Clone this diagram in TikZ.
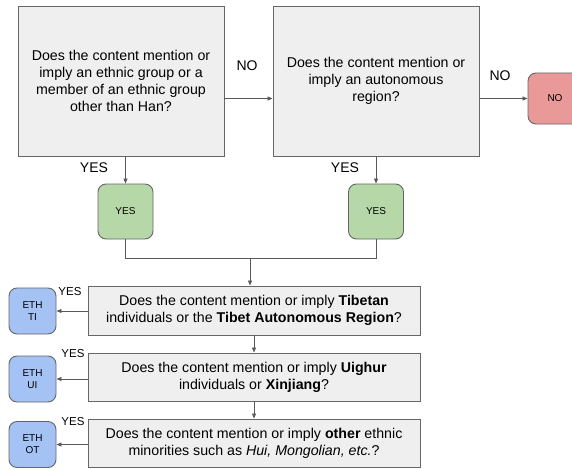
\documentclass[tikz,border=0pt]{standalone}
\usepackage{fontspec}
\setmainfont{Liberation Sans}
\usetikzlibrary{arrows.meta}
\definecolor{qfill}{HTML}{EFEFEF}
\definecolor{edge}{HTML}{666666}
\definecolor{line}{HTML}{595959}
\definecolor{yesfill}{HTML}{B6D7A8}
\definecolor{nofill}{HTML}{EA9999}
\definecolor{ethfill}{HTML}{A4C2F4}
\tikzset{
  question/.style={draw=edge, fill=qfill, line width=0.9pt, inner sep=0pt, align=center,
    font=\fontsize{14.2}{17.2}\selectfont},
  outcome/.style={draw=edge, line width=0.9pt, rounded corners=8pt, inner sep=0pt,
    align=center, font=\fontsize{10}{12}\selectfont},
  flow/.style={draw=line, line width=0.8pt, -{Triangle[length=5pt,width=4pt]}},
  link/.style={draw=line, line width=0.8pt},
  biglabel/.style={font=\fontsize{14}{17}\selectfont, inner sep=0pt},
  smalllabel/.style={font=\fontsize{11.5}{13}\selectfont, inner sep=0pt},
}
\begin{document}
\begin{tikzpicture}[x=1pt, y=-1pt]
\useasboundingbox (0,0) rectangle (572,468);
\clip (0,0) rectangle (572,468);
\fill[white] (0,0) rectangle (572,468);

% top row of questions
\node[question, minimum width=206pt, minimum height=150pt] (q1) at (121,81)
  {Does the content mention or\\ imply an ethnic group or a\\ member of an ethnic group\\ other than Han?};
\node[question, minimum width=206pt, minimum height=150pt] (q2) at (376,81)
  {Does the content mention or\\ imply an autonomous\\ region?};
\node[outcome, fill=nofill, minimum width=54pt, minimum height=51pt] (no) at (555,98.5) {NO};

% outcomes of the top row
\node[outcome, fill=yesfill, minimum width=55pt, minimum height=55pt] (y1) at (125.5,211.5) {YES};
\node[outcome, fill=yesfill, minimum width=55pt, minimum height=55pt] (y2) at (376,211.5) {YES};

% follow-up questions
\node[question, minimum width=332pt, minimum height=49pt] (tib) at (254,310.5)
  {Does the content mention or imply \textbf{Tibetan}\\ individuals or the \textbf{Tibet Autonomous Region}?};
\node[question, minimum width=332pt, minimum height=48pt] (uig) at (254,377)
  {Does the content mention or imply \textbf{Uighur}\\ individuals or \textbf{Xinjiang}?};
\node[question, minimum width=332pt, minimum height=48pt] (oth) at (254,443)
  {Does the content mention or imply \textbf{other} ethnic\\ minorities such as \textit{Hui, Mongolian, etc.}?};

% ethnicity codes
\node[outcome, fill=ethfill, minimum width=47pt, minimum height=46pt] (e1) at (32.5,311) {ETH\\ TI};
\node[outcome, fill=ethfill, minimum width=47pt, minimum height=46pt] (e2) at (32.5,379) {ETH\\ UI};
\node[outcome, fill=ethfill, minimum width=47pt, minimum height=46pt] (e3) at (32.5,444.5) {ETH\\ OT};

% connectors
\draw[flow] (q1.east |- no.west) -- (q2.west |- no.west);
\draw[flow] (q2.east |- no.west) -- (no.west);
\draw[flow] (y1.north |- q1.south) -- (y1.north);
\draw[flow] (y2.north |- q2.south) -- (y2.north);
\coordinate (merge) at (250,258);
\draw[link] (y1.south) -- (y1.south |- merge) -- (y2.south |- merge) -- (y2.south);
\draw[flow] (merge) -- (merge |- tib.north);
\draw[flow] (tib.south) -- (uig.north);
\draw[flow] (uig.south) -- (oth.north);
\draw[flow] (tib.west |- e1.east) -- (e1.east);
\draw[flow] (uig.west |- e2.east) -- (e2.east);
\draw[flow] (oth.west |- e3.east) -- (e3.east);

% branch labels
\node[biglabel] (l1) at (247,66) {NO};
\node[biglabel] (l2) at (500,76) {NO};
\node[biglabel] (l3) at (94,168) {YES};
\node[biglabel] (l4) at (345,168) {YES};
\node[smalllabel] (l5) at (70,292) {YES};
\node[smalllabel] (l6) at (73,354) {YES};
\node[smalllabel] (l7) at (73,422) {YES};
\end{tikzpicture}
\end{document}
